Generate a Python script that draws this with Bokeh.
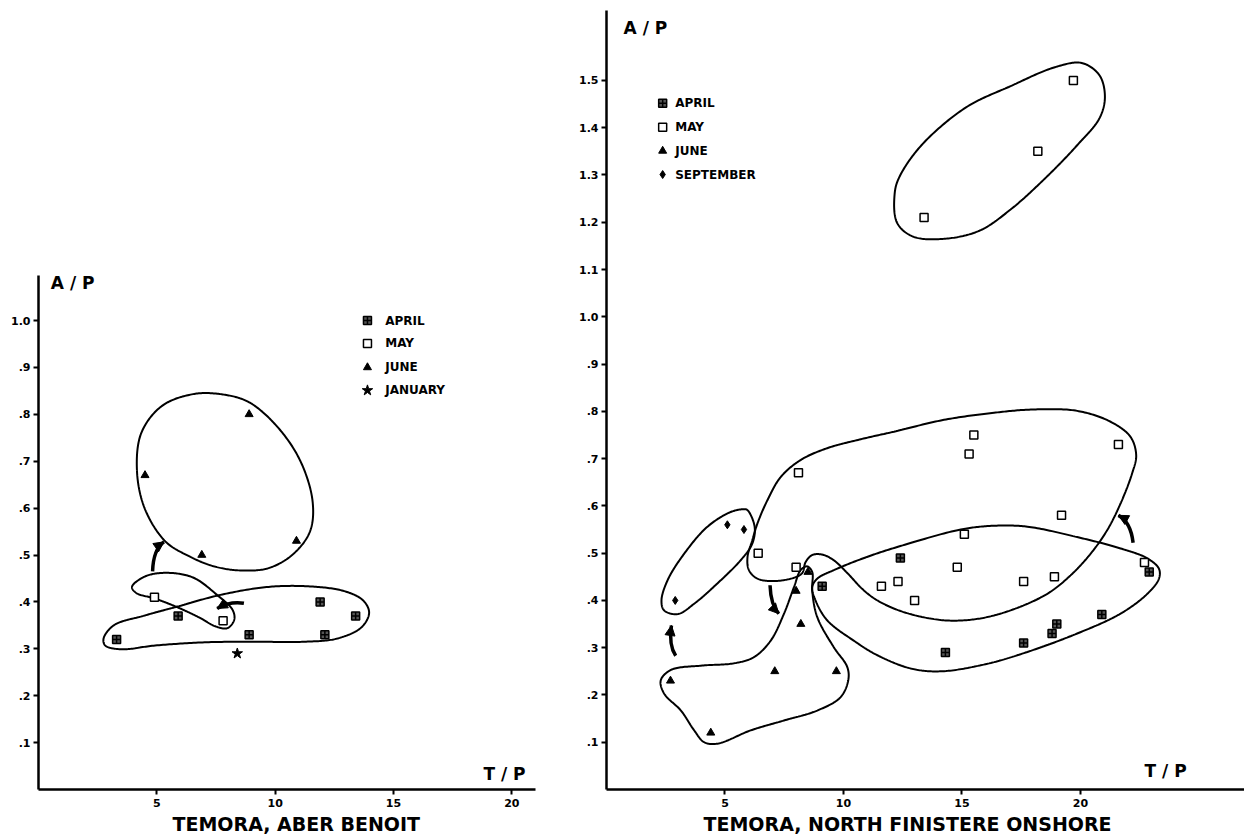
import numpy as np
from bokeh.plotting import figure
from bokeh.layouts import row
from bokeh.models import FixedTicker, CustomJSTickFormatter, Title, Arrow, NormalHead, Label
from bokeh.embed import file_html
from bokeh.resources import INLINE
from bokeh.core.properties import value

FONT = "DejaVu Sans"

# ---------------- Temora, Aber Benoit ----------------
ab_april_tp = [3.3, 5.9, 8.9, 11.9, 12.1, 13.4]
ab_april_ap = [0.32, 0.37, 0.33, 0.40, 0.33, 0.37]
ab_may_tp = [4.9, 7.8]
ab_may_ap = [0.41, 0.36]
ab_june_tp = [4.5, 6.9, 8.9, 10.9]
ab_june_ap = [0.67, 0.50, 0.80, 0.53]
ab_jan_tp = [8.4]
ab_jan_ap = [0.29]

# group envelopes (outline vertices, T/P and A/P units)
ab_june_env_tp = [4.16, 4.35, 5.22, 6.53, 7.69, 8.85, 10.01, 11.03, 11.58, 11.47, 10.74, 9.72, 8.56, 7.40, 6.38, 5.36, 4.49]
ab_june_env_ap = [0.68, 0.761, 0.818, 0.843, 0.843, 0.827, 0.778, 0.704, 0.615, 0.55, 0.501, 0.472, 0.467, 0.476, 0.497, 0.529, 0.599]
ab_may_env_tp = [3.95, 4.49, 5.36, 6.53, 7.54, 8.20, 8.27, 7.98, 7.47, 6.82, 5.94, 4.93, 4.13]
ab_may_env_ap = [0.432, 0.454, 0.462, 0.452, 0.415, 0.383, 0.362, 0.344, 0.348, 0.366, 0.387, 0.407, 0.419]
ab_april_env_tp = [2.75, 3.18, 4.49, 5.94, 7.69, 9.72, 11.47, 12.92, 13.72, 13.97, 13.65, 12.63, 11.18, 9.29, 7.11, 4.93, 3.47, 2.82]
ab_april_env_ap = [0.322, 0.35, 0.371, 0.391, 0.415, 0.432, 0.433, 0.423, 0.403, 0.377, 0.346, 0.322, 0.315, 0.315, 0.314, 0.307, 0.299, 0.307]

# seasonal shift arrows: start, control, end
ab_arrow_start = [(4.82, 0.465), (8.68, 0.397)]
ab_arrow_ctrl = [(4.85, 0.512), (8.10, 0.402)]
ab_arrow_end = [(5.30, 0.528), (7.55, 0.386)]

ab_legend = ["APRIL", "MAY", "JUNE", "JANUARY"]

# ---------------- Temora, North Finistere onshore ----------------
nf_april_tp = [12.4, 9.1, 22.9, 14.3, 17.6, 18.8, 19.0, 20.9]
nf_april_ap = [0.49, 0.43, 0.46, 0.29, 0.31, 0.33, 0.35, 0.37]
nf_may_tp = [19.7, 18.2, 13.4, 8.1, 15.5, 15.3, 21.6, 19.2, 15.1, 6.4, 8.0, 14.8, 11.6, 12.3, 13.0, 17.6, 18.9, 22.7]
nf_may_ap = [1.50, 1.35, 1.21, 0.67, 0.75, 0.71, 0.73, 0.58, 0.54, 0.50, 0.47, 0.47, 0.43, 0.44, 0.40, 0.44, 0.45, 0.48]
nf_june_tp = [2.7, 4.4, 7.1, 9.7, 8.2, 8.0, 8.5]
nf_june_ap = [0.23, 0.12, 0.25, 0.25, 0.35, 0.42, 0.46]
nf_sept_tp = [2.9, 5.1, 5.8]
nf_sept_ap = [0.40, 0.56, 0.55]

nf_may_hi_env_tp = [12.16, 12.35, 13.29, 15.17, 17.05, 18.92, 20.05, 20.80, 21.03, 20.80, 19.86, 18.55, 17.05, 15.73, 14.23, 12.92, 12.26]
nf_may_hi_env_ap = [1.261, 1.295, 1.363, 1.443, 1.488, 1.528, 1.537, 1.511, 1.465, 1.42, 1.363, 1.295, 1.227, 1.182, 1.165, 1.17, 1.199]
nf_may_env_tp = [6.01, 5.95, 6.15, 6.37, 6.79, 7.35, 8.19, 9.31, 10.73, 12.13, 14.24, 16.35, 18.04, 19.86, 21.27, 22.11,
                 22.35, 22.18, 21.69, 21.13, 20.43, 19.58, 18.60, 17.05, 15.65, 14.24, 12.56, 11.43, 10.80, 10.16, 9.59,
                 9.10, 8.68, 8.40, 8.26, 7.91, 7.07, 6.37]
nf_may_env_ap = [0.464, 0.492, 0.527, 0.563, 0.612, 0.661, 0.697, 0.722, 0.741, 0.757, 0.782, 0.797, 0.804, 0.801, 0.778, 0.746,
                 0.707, 0.669, 0.605, 0.549, 0.499, 0.453, 0.414, 0.379, 0.361, 0.358, 0.375, 0.40, 0.424, 0.458, 0.485,
                 0.497, 0.496, 0.481, 0.458, 0.448, 0.441, 0.446]
nf_april_env_tp = [8.68, 8.89, 9.59, 10.99, 12.40, 14.95, 16.35, 17.76, 19.86, 21.69, 22.82, 23.31, 23.31, 22.82, 21.69,
                   19.86, 17.76, 16.07, 14.10, 12.84, 11.43, 10.43, 9.31, 8.82]
nf_april_env_ap = [0.428, 0.446, 0.464, 0.492, 0.515, 0.55, 0.558, 0.556, 0.534, 0.51, 0.489, 0.467, 0.446, 0.414, 0.372,
                   0.33, 0.291, 0.266, 0.25, 0.256, 0.284, 0.315, 0.358, 0.40]
nf_june_env_tp = [2.29, 2.72, 3.98, 5.38, 6.22, 6.93, 7.49, 7.91, 8.19, 8.47, 8.68, 8.68, 8.89, 9.59, 10.16, 10.20, 9.87,
                  8.89, 7.49, 6.08, 4.68, 4.12, 3.70, 3.14, 2.43]
nf_june_env_ap = [0.231, 0.253, 0.262, 0.267, 0.28, 0.315, 0.372, 0.428, 0.464, 0.472, 0.46, 0.421, 0.365, 0.301, 0.259,
                  0.231, 0.195, 0.167, 0.146, 0.125, 0.097, 0.10, 0.125, 0.167, 0.203]
nf_sept_env_tp = [5.95, 6.25, 6.15, 5.66, 4.68, 3.70, 3.00, 2.43, 2.32, 2.58, 3.28, 4.26, 5.24, 5.80]
nf_sept_env_ap = [0.591, 0.556, 0.52, 0.485, 0.436, 0.393, 0.371, 0.379, 0.40, 0.443, 0.499, 0.556, 0.587, 0.593]

nf_arrow_start = [(2.92, 0.283), (6.90, 0.432), (22.22, 0.522)]
nf_arrow_ctrl = [(2.62, 0.305), (6.93, 0.390), (22.12, 0.566)]
nf_arrow_end = [(2.74, 0.347), (7.27, 0.372), (21.60, 0.580)]

nf_legend = ["APRIL", "MAY", "JUNE", "SEPTEMBER"]


def closed_curve(xs, ys, ky=19.9, n=24):
    """Centripetal Catmull-Rom spline through the outline vertices, closed."""
    P = np.column_stack([np.asarray(xs, float), np.asarray(ys, float) * ky])
    m = len(P)
    segs = []
    for i in range(m):
        p0, p1, p2, p3 = P[(i - 1) % m], P[i], P[(i + 1) % m], P[(i + 2) % m]
        t0 = 0.0
        t1 = t0 + max(np.hypot(*(p1 - p0)) ** 0.5, 1e-6)
        t2 = t1 + max(np.hypot(*(p2 - p1)) ** 0.5, 1e-6)
        t3 = t2 + max(np.hypot(*(p3 - p2)) ** 0.5, 1e-6)
        t = np.linspace(t1, t2, n, endpoint=False)[:, None]
        a1 = (t1 - t) / (t1 - t0) * p0 + (t - t0) / (t1 - t0) * p1
        a2 = (t2 - t) / (t2 - t1) * p1 + (t - t1) / (t2 - t1) * p2
        a3 = (t3 - t) / (t3 - t2) * p2 + (t - t2) / (t3 - t2) * p3
        b1 = (t2 - t) / (t2 - t0) * a1 + (t - t0) / (t2 - t0) * a2
        b2 = (t3 - t) / (t3 - t1) * a2 + (t - t1) / (t3 - t1) * a3
        segs.append((t2 - t) / (t2 - t1) * b1 + (t - t1) / (t2 - t1) * b2)
    C = np.vstack(segs + [P[:1]])
    return C[:, 0], C[:, 1] / ky


# Both panels share the same vertical frame (top 10 px, bottom 51 px);
# the shorter left axis is limited with axis bounds.
FRAME_H = 779


def make_panel(xmax, ymax, axis_top, fw, border_lr, yticks, title, title_offset):
    bl, br = border_lr
    p = figure(frame_width=fw, frame_height=FRAME_H, x_range=(0, xmax), y_range=(0, ymax),
               min_border_left=bl, min_border_right=br, min_border_top=10, min_border_bottom=51,
               output_backend="svg", toolbar_location=None, background_fill_color="white",
               border_fill_color="white")
    p.grid.visible = False
    p.outline_line_color = None
    p.xaxis.ticker = FixedTicker(ticks=[5, 10, 15, 20])
    p.yaxis.ticker = FixedTicker(ticks=yticks)
    p.yaxis.bounds = (0, axis_top)
    p.yaxis.formatter = CustomJSTickFormatter(
        code="const s = tick.toFixed(1); return tick < 0.95 ? s.slice(1) : s;")
    for ax in (p.xaxis[0], p.yaxis[0]):
        ax.axis_line_width = 2.5
        ax.axis_line_color = "black"
        ax.major_tick_line_width = 2
        ax.major_tick_out = 5
        ax.major_tick_in = 0
        ax.minor_tick_line_color = None
        ax.major_label_text_font = FONT
        ax.major_label_text_font_style = "bold"
        ax.major_label_text_font_size = "11px"
        ax.major_label_text_color = "black"
    p.yaxis.major_label_standoff = 3
    p.xaxis.major_label_standoff = 4
    p.add_layout(Title(text=title, align="left", offset=title_offset, standoff=2,
                       text_font=FONT, text_font_style="bold", text_font_size="19px",
                       text_color="black"), "below")
    return p


def draw_group(p, tp, ap, kind):
    if kind == "april":
        p.scatter(tp, ap, marker="square_cross", size=8, fill_color="#555555", line_color="black", line_width=1.5)
    elif kind == "may":
        p.scatter(tp, ap, marker="square", size=8, fill_color="white", line_color="black", line_width=1.5)
    elif kind == "june":
        p.scatter(tp, ap, marker="triangle", size=8, fill_color="black", line_color="black")
    elif kind == "jan":
        p.scatter(tp, ap, marker="star", size=11, fill_color="black", line_color="black")
    elif kind == "sept":
        p.scatter(tp, ap, marker="diamond", size=8, fill_color="black", line_color="black")


def draw_envelope(p, xs, ys):
    cx, cy = closed_curve(xs, ys)
    p.line(cx, cy, line_color="black", line_width=2)


def draw_arrows(p, starts, ctrls, ends):
    for (x0, y0), (cx, cy), (x1, y1) in zip(starts, ctrls, ends):
        p.quadratic(x0=[x0], y0=[y0], x1=[x1], y1=[y1], cx=[cx], cy=[cy], line_color="black", line_width=3.5)
        hx, hy = x1 - 0.35 * (x1 - cx), y1 - 0.35 * (y1 - cy)
        p.add_layout(Arrow(end=NormalHead(size=10, fill_color="black", line_color="black"),
                           x_start=hx, y_start=hy, x_end=x1, y_end=y1,
                           line_color="black", line_width=3))


def draw_legend(p, labels, kinds, mx, tx, ys):
    for lab, kind, y in zip(labels, kinds, ys):
        draw_group(p, [mx], [y], kind)
        p.text([tx], [y], text=[lab], text_font=value(FONT), text_font_style="bold",
               text_font_size="12px", text_baseline="middle", text_align="left", text_color="black")


def axis_note(p, x, y, txt):
    p.add_layout(Label(x=x, y=y, text=txt, text_font=FONT, text_font_style="bold",
                       text_font_size="17px", text_baseline="middle", text_color="black"))


# ---- left panel ----
left = make_panel(21.0, FRAME_H / 469.0, 1.096, 497, (38, 31),
                  [0.1, 0.2, 0.3, 0.4, 0.5, 0.6, 0.7, 0.8, 0.9, 1.0],
                  "TEMORA, ABER BENOIT", 134)
draw_envelope(left, ab_june_env_tp, ab_june_env_ap)
draw_envelope(left, ab_may_env_tp, ab_may_env_ap)
draw_envelope(left, ab_april_env_tp, ab_april_env_ap)
draw_arrows(left, ab_arrow_start, ab_arrow_ctrl, ab_arrow_end)
draw_group(left, ab_april_tp, ab_april_ap, "april")
draw_group(left, ab_may_tp, ab_may_ap, "may")
draw_group(left, ab_june_tp, ab_june_ap, "june")
draw_group(left, ab_jan_tp, ab_jan_ap, "jan")
draw_legend(left, ab_legend, ["april", "may", "june", "jan"], 13.9, 14.65, [1.0, 0.951, 0.90, 0.851])
axis_note(left, 0.52, 1.079, "A / P")
axis_note(left, 18.8, 0.032, "T / P")

# ---- right panel ----
right = make_panel(26.92, 1.648, 1.648, 638, (40, 0),
                   [round(0.1 * k, 1) for k in range(1, 16)],
                   "TEMORA, NORTH FINISTERE ONSHORE", 97)
draw_envelope(right, nf_may_hi_env_tp, nf_may_hi_env_ap)
draw_envelope(right, nf_may_env_tp, nf_may_env_ap)
draw_envelope(right, nf_april_env_tp, nf_april_env_ap)
draw_envelope(right, nf_june_env_tp, nf_june_env_ap)
draw_envelope(right, nf_sept_env_tp, nf_sept_env_ap)
draw_arrows(right, nf_arrow_start, nf_arrow_ctrl, nf_arrow_end)
draw_group(right, nf_april_tp, nf_april_ap, "april")
draw_group(right, nf_may_tp, nf_may_ap, "may")
draw_group(right, nf_june_tp, nf_june_ap, "june")
draw_group(right, nf_sept_tp, nf_sept_ap, "sept")
draw_legend(right, nf_legend, ["april", "may", "june", "sept"], 2.37, 2.9, [1.452, 1.401, 1.351, 1.301])
axis_note(right, 0.72, 1.611, "A / P")
axis_note(right, 22.7, 0.04, "T / P")

layout = row(left, right)
open("out.html", "w").write(file_html(layout, INLINE))
